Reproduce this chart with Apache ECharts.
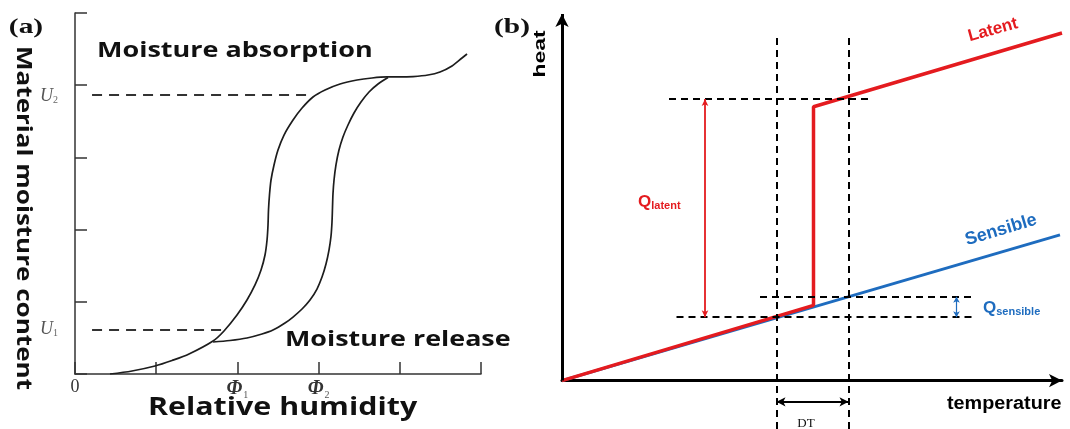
<!DOCTYPE html>
<html><head><meta charset="utf-8">
<script src="https://cdn.jsdelivr.net/npm/echarts@6/dist/echarts.min.js"></script>
<style>html,body{margin:0;padding:0;background:#fff}#c{width:1070px;height:429px}</style>
</head><body><div id="c"></div>
<script>
// ---------- Panel (a): moisture sorption hysteresis ----------
const humidityTickLabels = ['0', '', 'Φ|1', 'Φ|2', '', ''];
const absorptionRH = [0.431, 0.702, 0.985, 1.195, 1.404, 1.700, 1.835, 1.995, 2.118, 2.217, 2.291, 2.340, 2.365, 2.377, 2.383, 2.395, 2.414, 2.451, 2.500, 2.574, 2.685, 2.796, 2.931, 3.079, 3.264, 3.473, 3.658, 3.842, 4.002, 4.163, 4.347, 4.495, 4.643, 4.766, 4.828];
const absorptionMoisture = [0.000, 0.042, 0.111, 0.187, 0.277, 0.457, 0.596, 0.817, 1.025, 1.233, 1.440, 1.648, 1.856, 2.064, 2.271, 2.479, 2.687, 2.895, 3.102, 3.310, 3.518, 3.684, 3.837, 3.934, 4.017, 4.072, 4.100, 4.114, 4.114, 4.120, 4.141, 4.183, 4.266, 4.377, 4.432];
const releaseRH = [1.700, 1.909, 2.118, 2.303, 2.438, 2.586, 2.685, 2.796, 2.894, 2.980, 3.042, 3.091, 3.128, 3.153, 3.165, 3.171, 3.177, 3.190, 3.214, 3.251, 3.300, 3.362, 3.436, 3.522, 3.621, 3.732, 3.855];
const releaseMoisture = [0.443, 0.464, 0.499, 0.554, 0.609, 0.706, 0.789, 0.900, 1.025, 1.177, 1.343, 1.524, 1.717, 1.911, 2.105, 2.299, 2.493, 2.687, 2.895, 3.102, 3.283, 3.449, 3.615, 3.767, 3.906, 4.017, 4.107];
const moistureLevels = [0.609, 3.864];        // U1, U2
const moistureLevelStart = [0.21, 0.21];
const moistureLevelEnd = [1.81, 2.93];

// ---------- Panel (b): heat vs temperature ----------
const latentTemp = [0, 50.3, 50.3, 100];
const latentHeat = [0, 20.2, 73.5, 93.3];
const sensibleTemp = [0, 99.6];
const sensibleHeat = [0, 39.1];
const dtBounds = [42.9, 57.3];
const dtArrowHeat = -5.7;
const guideTop = 92.8;
const guideBottom = -13;
const hGuideHeat = [75.6, 22.5, 17.0];
const hGuideFrom = [21.4, 39.6, 22.9];
const hGuideTo = [61.4, 81.9, 81.9];
const qLatentX = 28.6;
const qLatentSpan = [17.0, 75.6];
const qSensibleX = 78.9;
const qSensibleSpan = [17.0, 22.5];
const heatAxisTop = 98.4;

const RED = '#e41b1f', BLUE = '#1e6cbf', INK = '#1d1d1d';

const zip = (xs, ys) => xs.map((x, i) => [x, ys[i]]);

const chart = echarts.init(document.getElementById('c'), null, {renderer: 'canvas'});

const uLines = moistureLevels.map((u, i) => [{coord: [moistureLevelStart[i], u]}, {coord: [moistureLevelEnd[i], u]}]);
const hGuides = hGuideHeat.map((h, i) => [{coord: [hGuideFrom[i], h]}, {coord: [hGuideTo[i], h]}]);
const vGuides = dtBounds.map(t => [{coord: [t, guideBottom]}, {coord: [t, guideTop]}]);

const sansA = '"Open Sans", sans-serif';
const serif = '"Liberation Serif", "DejaVu Serif", serif';
const sansB = '"Liberation Sans", Arial, sans-serif';

const option = {
  animation: false,
  backgroundColor: '#fff',
  grid: [
    {left: 75, top: 13, width: 406, height: 361, containLabel: false, outerBoundsMode: 'none'},
    {left: 562, top: 8, width: 500, height: 421, containLabel: false, outerBoundsMode: 'none'}
  ],
  xAxis: [
    {
      type: 'value', gridIndex: 0, min: 0, max: 5, interval: 1,
      axisLine: {show: true, onZero: false, lineStyle: {color: '#333', width: 1.5}},
      axisTick: {show: true, inside: true, length: 12, lineStyle: {color: '#333', width: 1.5}},
      splitLine: {show: false},
      axisLabel: {
        show: true, margin: 4,
        formatter: (v) => {
          const t = humidityTickLabels[Math.round(v)] || '';
          if (t.indexOf('|') > 0) { const p = t.split('|'); return '{p|' + p[0] + '}{s|' + p[1] + '}'; }
          return t === '' ? '' : '{z|' + t + '}';
        },
        rich: {
          p: {fontFamily: serif, fontStyle: 'italic', fontWeight: 'bold', fontSize: 20, color: '#333'},
          s: {fontFamily: serif, fontSize: 10, color: '#555', padding: [12, 0, 0, 1]},
          z: {fontFamily: serif, fontSize: 18, color: '#333'}
        }
      }
    },
    {
      type: 'value', gridIndex: 1, min: 0, max: 100,
      axisLine: {show: true, onZero: true, symbol: ['none', 'arrow'], symbolSize: [10, 13], lineStyle: {color: '#000', width: 3}},
      axisTick: {show: false}, axisLabel: {show: false}, splitLine: {show: false}
    }
  ],
  yAxis: [
    {
      type: 'value', gridIndex: 0, min: 0, max: 5, interval: 1,
      axisLine: {show: true, onZero: false, lineStyle: {color: '#333', width: 1.5}},
      axisTick: {show: true, inside: true, length: 12, lineStyle: {color: '#333', width: 1.5}},
      axisLabel: {show: false}, splitLine: {show: false}
    },
    {
      type: 'value', gridIndex: 1, min: -13, max: 100,
      axisLine: {show: false}, axisTick: {show: false}, axisLabel: {show: false}, splitLine: {show: false}
    }
  ],
  series: [
    {
      name: 'Moisture absorption', type: 'line', xAxisIndex: 0, yAxisIndex: 0,
      data: zip(absorptionRH, absorptionMoisture), smooth: 0.3, symbol: 'none', silent: true,
      lineStyle: {color: INK, width: 1.7},
      markLine: {
        silent: true, symbol: 'none', label: {show: false},
        lineStyle: {color: '#333', width: 1.8, type: [10, 7]},
        data: uLines
      }
    },
    {
      name: 'Moisture release', type: 'line', xAxisIndex: 0, yAxisIndex: 0,
      data: zip(releaseRH, releaseMoisture), smooth: 0.3, symbol: 'none', silent: true,
      lineStyle: {color: INK, width: 1.7}
    },
    {
      name: 'guides', type: 'line', xAxisIndex: 1, yAxisIndex: 1, data: [], silent: true,
      markLine: {
        silent: true, symbol: 'none', label: {show: false},
        lineStyle: {color: '#000', width: 2, type: [7, 5]},
        data: hGuides.concat(vGuides)
      }
    },
    {
      name: 'heat axis', type: 'line', xAxisIndex: 1, yAxisIndex: 1, data: [], silent: true,
      markLine: {
        silent: true, symbol: ['none', 'arrow'], symbolSize: [10, 13], label: {show: false},
        lineStyle: {color: '#000', width: 3, type: 'solid'},
        data: [[{coord: [0, 0]}, {coord: [0, heatAxisTop]}]]
      }
    },
    {
      name: 'DT', type: 'line', xAxisIndex: 1, yAxisIndex: 1, data: [], silent: true,
      markLine: {
        silent: true, symbol: ['arrow', 'arrow'], symbolSize: [7, 9], label: {show: false},
        lineStyle: {color: '#000', width: 1.8, type: 'solid'},
        data: [[{coord: [dtBounds[0], dtArrowHeat]}, {coord: [dtBounds[1], dtArrowHeat]}]]
      }
    },
    {
      name: 'Sensible', type: 'line', xAxisIndex: 1, yAxisIndex: 1, silent: true,
      data: zip(sensibleTemp, sensibleHeat), symbol: 'none', z: 3,
      lineStyle: {color: BLUE, width: 3},
      markLine: {
        silent: true, symbol: ['arrow', 'arrow'], symbolSize: [5, 6], label: {show: false},
        lineStyle: {color: BLUE, width: 1.2, type: 'solid'},
        data: [[{coord: [qSensibleX, qSensibleSpan[0]]}, {coord: [qSensibleX, qSensibleSpan[1]]}]]
      }
    },
    {
      name: 'Latent', type: 'line', xAxisIndex: 1, yAxisIndex: 1, silent: true,
      data: zip(latentTemp, latentHeat), symbol: 'none', z: 4,
      lineStyle: {color: RED, width: 3.5},
      markLine: {
        silent: true, symbol: ['arrow', 'arrow'], symbolSize: [5, 7], label: {show: false},
        lineStyle: {color: RED, width: 1.8, type: 'solid'},
        data: [[{coord: [qLatentX, qLatentSpan[0]]}, {coord: [qLatentX, qLatentSpan[1]]}]]
      }
    }
  ],
  graphic: [
    {type: 'text', x: 26, y: 28, scaleX: 1.4, style: {text: '(a)', font: 'bold 21px ' + serif, fill: '#111', textAlign: 'center', textVerticalAlign: 'middle'}},
    {type: 'text', x: 512, y: 28, scaleX: 1.4, style: {text: '(b)', font: 'bold 21px ' + serif, fill: '#111', textAlign: 'center', textVerticalAlign: 'middle'}},
    {type: 'text', x: 97, y: 51, scaleX: 1.285, style: {text: 'Moisture absorption', font: 'bold 21px ' + sansA, fill: '#111', textAlign: 'left', textVerticalAlign: 'middle'}},
    {type: 'text', x: 285, y: 340, scaleX: 1.28, style: {text: 'Moisture release', font: 'bold 21px ' + sansA, fill: '#111', textAlign: 'left', textVerticalAlign: 'middle'}},
    {type: 'text', x: 148, y: 408, scaleX: 1.215, style: {text: 'Relative humidity', font: 'bold 25px ' + sansA, fill: '#111', textAlign: 'left', textVerticalAlign: 'middle'}},
    {type: 'text', x: 23, y: 218, rotation: -Math.PI / 2, scaleX: 1.24, style: {text: 'Material moisture content', font: 'bold 21px ' + sansA, fill: '#111', textAlign: 'center', textVerticalAlign: 'middle'}},
    {type: 'text', x: 49, y: 96, style: {text: '{u|U}{s|2}', textAlign: 'center', textVerticalAlign: 'middle', rich: {u: {font: 'italic 18px ' + serif, fill: '#555'}, s: {font: '10px ' + serif, fill: '#666', padding: [9, 0, 0, 0]}}}},
    {type: 'text', x: 49, y: 329, style: {text: '{u|U}{s|1}', textAlign: 'center', textVerticalAlign: 'middle', rich: {u: {font: 'italic 18px ' + serif, fill: '#555'}, s: {font: '10px ' + serif, fill: '#666', padding: [9, 0, 0, 0]}}}},
    {type: 'text', x: 540, y: 54, rotation: Math.PI / 2, scaleX: 1.35, style: {text: 'heat', font: 'bold 17px ' + sansB, fill: '#000', textAlign: 'center', textVerticalAlign: 'middle'}},
    {type: 'text', x: 947, y: 404, scaleX: 1.1, style: {text: 'temperature', font: 'bold 18px ' + sansB, fill: '#000', textAlign: 'left', textVerticalAlign: 'middle'}},
    {type: 'text', x: 993, y: 30, rotation: 0.27, style: {text: 'Latent', font: 'bold 17px ' + sansB, fill: RED, textAlign: 'center', textVerticalAlign: 'middle'}},
    {type: 'text', x: 1001, y: 230, rotation: 0.29, style: {text: 'Sensible', font: 'bold 18px ' + sansB, fill: BLUE, textAlign: 'center', textVerticalAlign: 'middle'}},
    {type: 'text', x: 638, y: 202, style: {text: '{q|Q}{s|latent}', textAlign: 'left', textVerticalAlign: 'middle', rich: {q: {font: 'bold 17px ' + sansB, fill: RED}, s: {font: 'bold 11px ' + sansB, fill: RED, padding: [8, 0, 0, 0]}}}},
    {type: 'text', x: 983, y: 308, style: {text: '{q|Q}{s|sensible}', textAlign: 'left', textVerticalAlign: 'middle', rich: {q: {font: 'bold 17px ' + sansB, fill: BLUE}, s: {font: 'bold 11px ' + sansB, fill: BLUE, padding: [8, 0, 0, 0]}}}},
    {type: 'text', x: 806, y: 424, style: {text: 'DT', font: '13px ' + serif, fill: '#111', textAlign: 'center', textVerticalAlign: 'middle'}}
  ]
};
chart.setOption(option);
</script></body></html>
